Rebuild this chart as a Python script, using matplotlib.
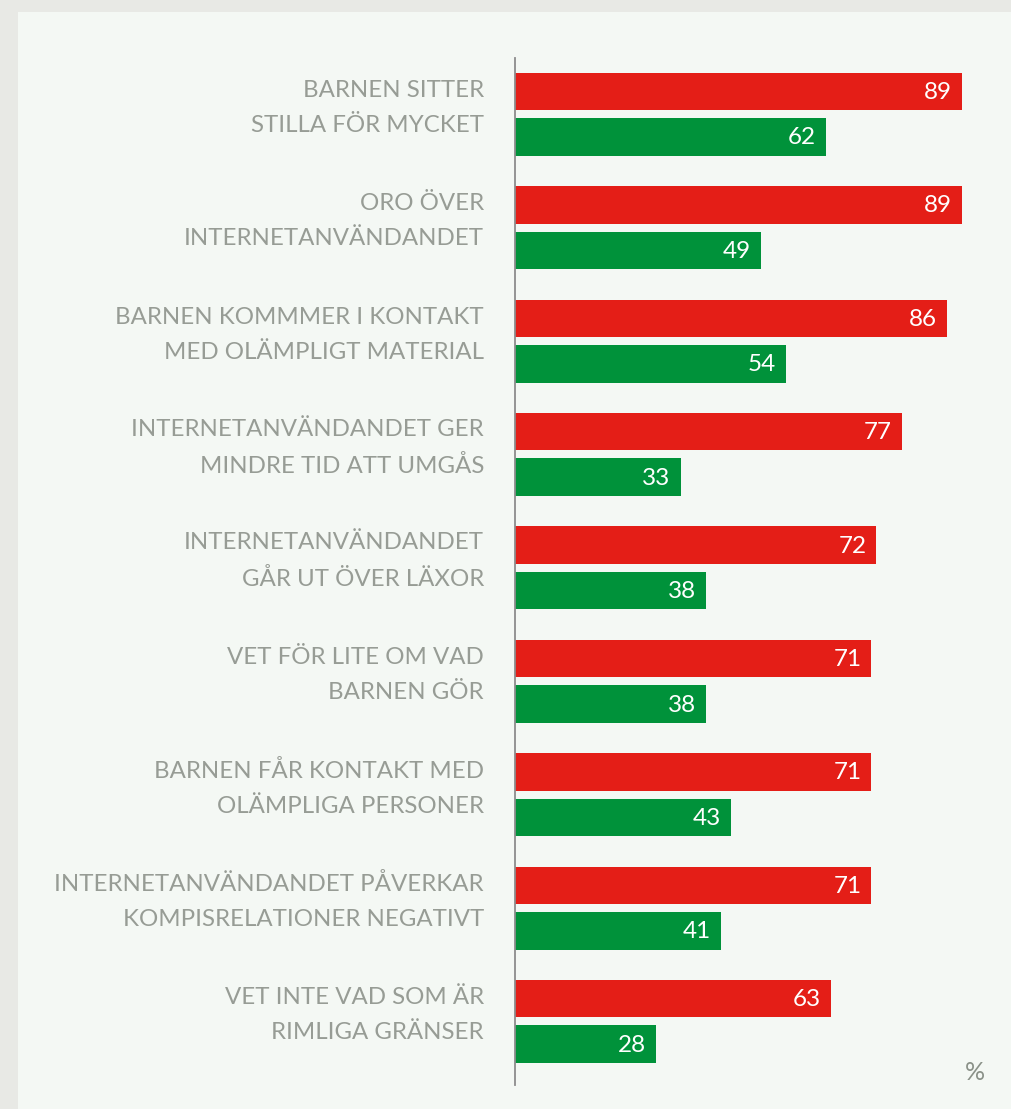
import matplotlib.pyplot as plt

categories = ['BARNEN SITTER\nSTILLA FÖR MYCKET',
              'ORO ÖVER\nINTERNETANVÄNDANDET',
              'BARNEN KOMMMER I KONTAKT\nMED OLÄMPLIGT MATERIAL',
              'INTERNETANVÄNDANDET GER\nMINDRE TID ATT UMGÅS',
              'INTERNETANVÄNDANDET\nGÅR UT ÖVER LÄXOR',
              'VET FÖR LITE OM VAD\nBARNEN GÖR',
              'BARNEN FÅR KONTAKT MED\nOLÄMPLIGA PERSONER',
              'INTERNETANVÄNDANDET PÅVERKAR\nKOMPISRELATIONER NEGATIVT',
              'VET INTE VAD SOM ÄR\nRIMLIGA GRÄNSER']
red_values = [89, 89, 86, 77, 72, 71, 71, 71, 63]
green_values = [62, 49, 54, 33, 38, 38, 43, 41, 28]

W, H = 1012, 1109
fig = plt.figure(figsize=(W / 100, H / 100), dpi=100)
fig.patch.set_facecolor('#e8e9e5')
# inner panel
fig.patches.append(plt.Rectangle((18 / W, 0), 1 - 18 / W, 1 - 12 / H, transform=fig.transFigure,
                                 facecolor='#f4f8f4', edgecolor='none', zorder=-10))

ax_left, ax_top, ax_bottom = 515, 58, 1085
ax = fig.add_axes([ax_left / W, 1 - ax_bottom / H, (W - ax_left) / W, (ax_bottom - ax_top) / H])
ax.set_facecolor('none')
ax.set_xlim(0, (W - ax_left) / 5.02)
ax.set_ylim(ax_bottom, ax_top)

pitch = 113.4
red_y = [91.5 + i * pitch for i in range(len(categories))]
green_y = [y + 45.5 for y in red_y]

ax.barh(red_y, red_values, height=37.5, color='#e41e17')
ax.barh(green_y, green_values, height=37.5, color='#00923a')

for y, v in zip(red_y, red_values):
    ax.text(v - 2.0, y + 1, str(v), color='white', ha='right', va='center',
            fontsize=17.5, family='Lato')
for y, v in zip(green_y, green_values):
    ax.text(v - 2.0, y + 1, str(v), color='white', ha='right', va='center',
            fontsize=17.5, family='Lato')

for ry, gy, lab in zip(red_y, green_y, categories):
    ax.text(-31 / 5.02, (ry + gy) / 2 - 6.5, lab, ha='right', va='center', color='#979c95',
            fontsize=17.3, family='Lato', linespacing=1.82)

ax.text(0.925, 0.012, '%', transform=ax.transAxes, ha='center', va='center',
        color='#8a9188', fontsize=18, family='Lato')

for s in ['top', 'right', 'bottom']:
    ax.spines[s].set_visible(False)
ax.spines['left'].set_color('#8c8c8c')
ax.spines['left'].set_linewidth(1.3)
ax.set_xticks([])
ax.set_yticks([])

fig.savefig('out.png', dpi=100, facecolor=fig.get_facecolor())
